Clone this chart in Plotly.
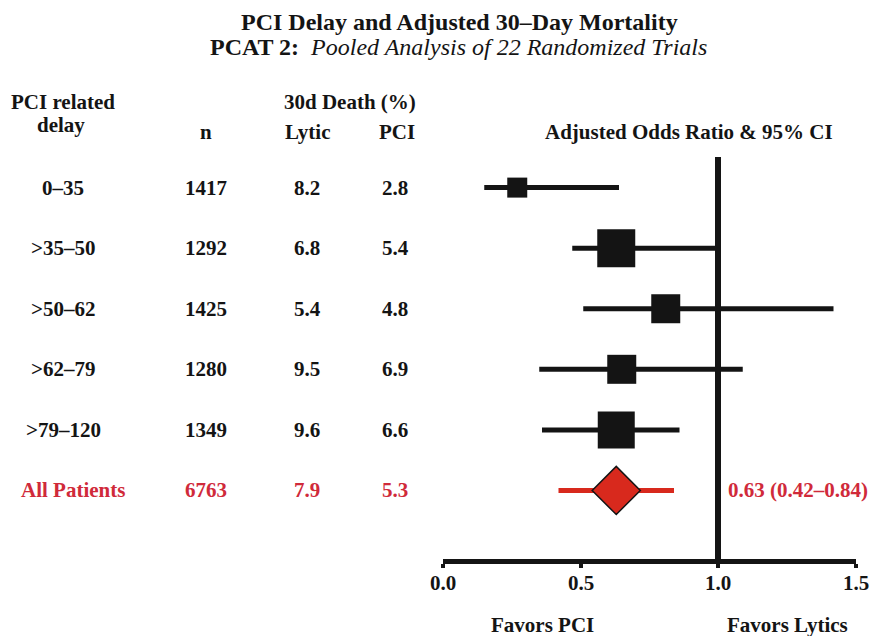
import plotly.graph_objects as go

# ---- data ---------------------------------------------------------------
delay_groups = ["0–35", ">35–50", ">50–62", ">62–79", ">79–120", "All Patients"]
n_patients = [1417, 1292, 1425, 1280, 1349, 6763]
death_lytic = [8.2, 6.8, 5.4, 9.5, 9.6, 7.9]
death_pci = [2.8, 5.4, 4.8, 6.9, 6.6, 5.3]
odds_ratio = [0.27, 0.63, 0.81, 0.65, 0.63, 0.63]
ci_low = [0.15, 0.47, 0.51, 0.35, 0.36, 0.42]
ci_high = [0.64, 0.99, 1.42, 1.09, 0.86, 0.84]
x_ticks = [0.0, 0.5, 1.0, 1.5]
x_tick_labels = ["0.0", "0.5", "1.0", "1.5"]

# ---- styling ------------------------------------------------------------
W, H = 876, 636
FONT = "Liberation Serif"
INK = "#141414"
RED_TXT = "#d02a3a"
RED_MARK = "#d8291d"
box_px = [20, 38, 29, 29, 37]          # square marker sizes per subgroup
TXT = 21


def px_x(p):
    return p / W


def px_y(p):
    return 1 - p / H


def esc(s):
    return s.replace("&", "&amp;").replace(">", "&gt;")


fig = go.Figure()

n_sub = len(delay_groups) - 1
rows = list(range(len(delay_groups)))

# confidence interval bars for the subgroups
for i in range(n_sub):
    fig.add_trace(go.Scatter(
        x=[ci_low[i], ci_high[i]], y=[rows[i], rows[i]],
        mode="lines", line=dict(color=INK, width=5),
        hoverinfo="skip", showlegend=False, cliponaxis=False))

# pooled estimate interval
fig.add_trace(go.Scatter(
    x=[ci_low[-1], ci_high[-1]], y=[rows[-1], rows[-1]],
    mode="lines", line=dict(color=RED_MARK, width=5),
    hoverinfo="skip", showlegend=False, cliponaxis=False))

# subgroup point estimates
fig.add_trace(go.Scatter(
    x=odds_ratio[:n_sub], y=rows[:n_sub], mode="markers",
    marker=dict(symbol="square", size=box_px, color=INK, opacity=1,
                line=dict(width=0)),
    showlegend=False, cliponaxis=False))

# pooled point estimate
fig.add_trace(go.Scatter(
    x=[odds_ratio[-1]], y=[rows[-1]], mode="markers",
    marker=dict(symbol="diamond", size=37, color=RED_MARK, opacity=1,
                line=dict(color=INK, width=1.5)),
    showlegend=False, cliponaxis=False))

# line of no effect
fig.add_shape(type="line", xref="x", yref="paper",
              x0=1.0, x1=1.0, y0=px_y(157), y1=px_y(564),
              line=dict(color=INK, width=6))

ann = []


def add_text(text, x, y, size=TXT, color=INK, yref="paper", xref="paper"):
    ann.append(dict(text=text, x=px_x(x) if xref == "paper" else x, xref=xref,
                    y=y if yref == "y" else px_y(y), yref=yref,
                    xanchor="center", yanchor="middle", showarrow=False,
                    font=dict(family=FONT, size=size, color=color, weight="bold")))


# titles
add_text("PCI Delay and Adjusted 30–Day Mortality", 459.5, 22, size=24)
ann.append(dict(text="<b>PCAT 2:</b>&nbsp;&nbsp;<i>Pooled Analysis of 22 Randomized Trials</i>",
                x=px_x(458), xref="paper", y=px_y(47), yref="paper",
                xanchor="center", yanchor="middle", showarrow=False,
                font=dict(family=FONT, size=24, color=INK, weight="normal")))

# column headers
add_text("PCI related", 63, 102)
add_text("delay", 61, 125)
add_text("30d Death (%)", 350, 102)
add_text("n", 206, 132)
add_text("Lytic", 308, 132)
add_text("PCI", 397, 132)
add_text("Adjusted Odds Ratio &amp; 95% CI", 689, 132)

# table rows
for i, lab in enumerate(delay_groups):
    pooled = i == len(delay_groups) - 1
    col = RED_TXT if pooled else INK
    add_text(esc(lab), 73 if pooled else 63, rows[i], color=col, yref="y")
    add_text(f"{n_patients[i]}", 206, rows[i], color=col, yref="y")
    add_text(f"{death_lytic[i]:.1f}", 307, rows[i], color=col, yref="y")
    add_text(f"{death_pci[i]:.1f}", 395, rows[i], color=col, yref="y")

# pooled estimate label
add_text(f"{odds_ratio[-1]:.2f} ({ci_low[-1]:.2f}–{ci_high[-1]:.2f})",
         797.5, rows[-1], color=RED_TXT, yref="y")

# odds-ratio tick labels, placed on the x scale under the axis line
for v, t in zip(x_ticks, x_tick_labels):
    add_text(t, v, 583, xref="x")

# favours labels
add_text("Favors PCI", 542, 625)
add_text("Favors Lytics", 787, 625)

# row axis: row i sits at pixel 187.6 + 60.57 * i
y_top = -187.6 / 60.57
y_bot = (H - 187.6) / 60.57

fig.update_layout(
    width=W, height=H,
    margin=dict(l=0, r=0, t=0, b=0, autoexpand=False),
    paper_bgcolor="white", plot_bgcolor="rgba(0,0,0,0)",
    annotations=ann,
    xaxis=dict(domain=[px_x(443), px_x(855.5)], range=[0, 1.5],
               anchor="free", position=px_y(561), automargin=False,
               showline=True, linewidth=5, linecolor=INK,
               ticks="outside", ticklen=4, tickwidth=4, tickcolor=INK,
               tickvals=x_ticks, showticklabels=False,
               showgrid=False, zeroline=False, fixedrange=True),
    yaxis=dict(domain=[0, 1], range=[y_bot, y_top], visible=False,
               automargin=False,
               showgrid=False, zeroline=False, fixedrange=True),
    showlegend=False,
)

fig.write_html("out.html")
